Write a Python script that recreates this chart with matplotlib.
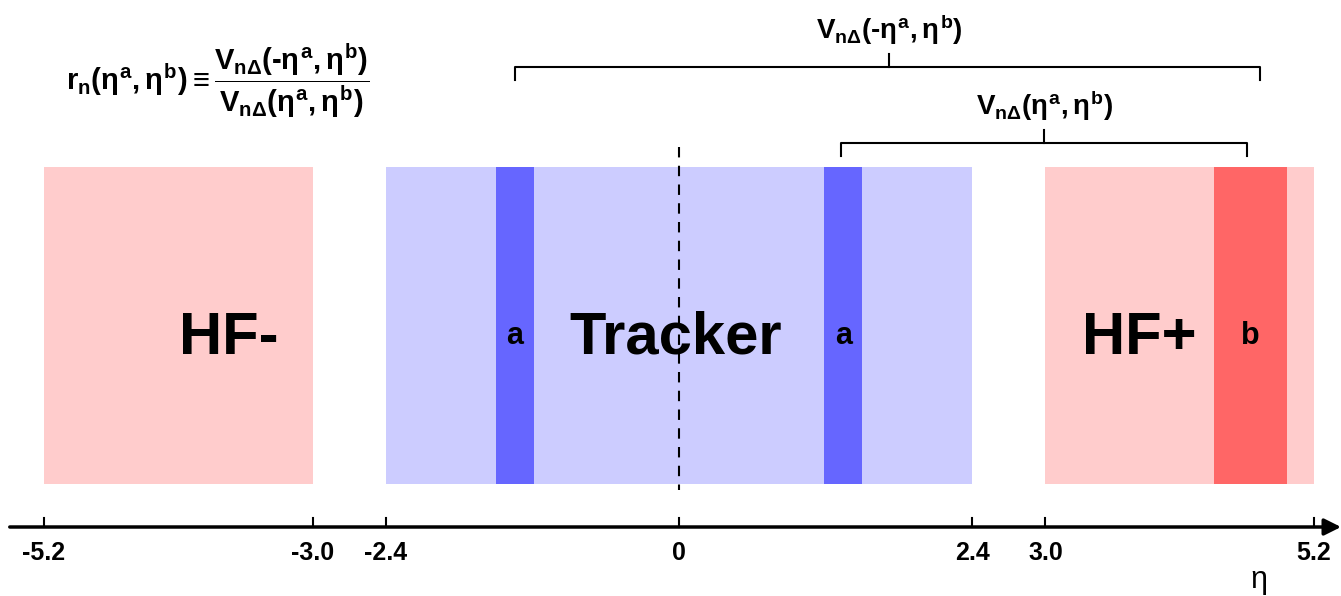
import matplotlib
matplotlib.use("Agg")
import matplotlib.pyplot as plt

plt.rcParams['font.family'] = ['Liberation Sans', 'DejaVu Sans']
plt.rcParams['mathtext.fontset'] = 'custom'
plt.rcParams['mathtext.rm'] = 'Liberation Sans:bold'
plt.rcParams['mathtext.it'] = 'Liberation Sans:bold'
plt.rcParams['mathtext.bf'] = 'Liberation Sans:bold'

# detector regions in eta
regions = ['HF-', 'Tracker', 'HF+']
region_lo = [-5.2, -2.4, 3.0]
region_hi = [-3.0, 2.4, 5.2]
region_colors = ['#ffcccc', '#ccccff', '#ffcccc']
region_text_x = [-3.69, -0.03, 3.77]

# selected eta bins
bands = ['a', 'a', 'b']
band_lo = [-1.5, 1.19, 4.38]
band_hi = [-1.19, 1.5, 4.98]
band_colors = ['#6666ff', '#6666ff', '#ff6666']

# axis ticks
ticks = [-5.2, -3.0, -2.4, 0, 2.4, 3.0, 5.2]
tick_labels = ['-5.2', '-3.0', '-2.4', '0', '2.4', '3.0', '5.2']

# brackets: (left, right, centre) in eta
brackets_lo = [-1.34, 1.33]
brackets_hi = [4.76, 4.65]
brackets_mid = [1.72, 2.99]
bracket_labels = [r'$V_{n\Delta}(‐\eta^{a},\eta^{b})$', r'$V_{n\Delta}(\eta^{a},\eta^{b})$']

fig = plt.figure(figsize=(13.41, 5.96), dpi=100)
ax = fig.add_axes([0, 0, 1, 1])
ax.set_xlim(-5.56, 5.42)
ax.set_ylim(596, 0)
ax.axis('off')

top, bot = 167, 484
widths = [h - l for l, h in zip(region_lo, region_hi)]
ax.bar(region_lo, bot - top, width=widths, bottom=top, align='edge',
       color=region_colors, linewidth=0, zorder=1)
bwidths = [h - l for l, h in zip(band_lo, band_hi)]
ax.bar(band_lo, bot - top, width=bwidths, bottom=top, align='edge',
       color=band_colors, linewidth=0, zorder=2)

# dashed line at eta = 0
ax.plot([0, 0], [147, 490], color='black', lw=1.5, ls=(0, (5, 4)), zorder=3)

for name, x in zip(regions, region_text_x):
    ax.text(x, 338, name, fontsize=43, fontweight='bold', ha='center', va='center', zorder=4)
for name, l, h in zip(bands, band_lo, band_hi):
    ax.text((l + h) / 2, 336, name, fontsize=22, fontweight='bold', ha='center', va='center', zorder=4)

# eta axis with arrow
ax.annotate('', xy=(5.42, 527), xytext=(-5.48, 527), annotation_clip=False,
            arrowprops=dict(arrowstyle='-|>', color='black', lw=2.5, mutation_scale=25,
                            shrinkA=0, shrinkB=0))
for t, lab in zip(ticks, tick_labels):
    ax.plot([t, t], [518, 527], color='black', lw=1.5)
    ax.text(t, 553, lab, fontsize=18, fontweight='bold', ha='center', va='center')
ax.text(4.75, 580, 'η', fontsize=22, ha='center', va='center')

# brackets
ys = [67, 143]
for lo, hi, mid, lab, y in zip(brackets_lo, brackets_hi, brackets_mid, bracket_labels, ys):
    ax.plot([lo, lo, hi, hi], [y + 13, y, y, y + 13], color='black', lw=1.5)
    ax.plot([mid, mid], [y - 13, y], color='black', lw=1.5)
    ax.text(mid, y - 37, lab, fontsize=20, ha='center', va='center')

# ratio definition
ax.text(-3.78, 81,
        r'$r_{n}(\eta^{a},\eta^{b}) \equiv \dfrac{V_{n\Delta}(‐\eta^{a},\eta^{b})}{V_{n\Delta}(\eta^{a},\eta^{b})}$',
        fontsize=21, ha='center', va='center')

fig.savefig('out.png', dpi=100)
